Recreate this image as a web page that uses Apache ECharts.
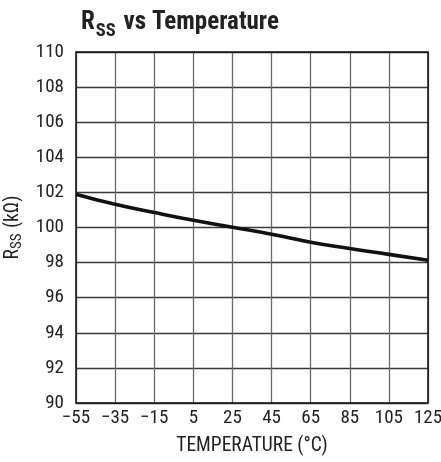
<!DOCTYPE html>
<html><head><meta charset="utf-8">
<script src="https://cdn.jsdelivr.net/npm/echarts@6/dist/echarts.min.js"></script>
<style>html,body{margin:0;padding:0;background:#fff}#c{width:441px;height:462px}</style>
</head><body><div id="c"></div>
<script>
var temps = [-55, -35, -15, 5, 25, 45, 65, 85, 105, 125];
var rss = [101.9, 101.32, 100.85, 100.41, 100.02, 99.62, 99.16, 98.8, 98.47, 98.13];
var yTicks = [90, 92, 94, 96, 98, 100, 102, 104, 106, 108, 110];
var xTicks = [-55, -35, -15, 5, 25, 45, 65, 85, 105, 125];

var FONT = "'Roboto Condensed', 'Liberation Sans Narrow', 'Liberation Sans', sans-serif";
var TXT = '#222';
var chart = echarts.init(document.getElementById('c'), null, {renderer: 'canvas'});
var borderAxis = {
  axisLine: {show: true, onZero: false, lineStyle: {color: '#111', width: 1.5}},
  axisTick: {show: false}, axisLabel: {show: false}, splitLine: {show: false}
};
chart.setOption({
  animation: false,
  backgroundColor: '#fff',
  title: {
    text: '{r|R}{s|SS}{r| vs Temperature}',
    left: 76, top: 5,
    textStyle: {
      rich: {
        r: {fontFamily: FONT, fontWeight: 'bold', fontSize: 25, color: TXT, verticalAlign: 'top'},
        s: {fontFamily: FONT, fontWeight: 'bold', fontSize: 18.5, color: TXT, verticalAlign: 'top', padding: [12, 2, 0, 1]}
      }
    }
  },
  grid: {left: 76, right: 13, top: 52, bottom: 59, show: false, outerBoundsMode: 'none', containLabel: false},
  xAxis: [{
    type: 'value', min: -55, max: 125, interval: 20,
    name: 'TEMPERATURE (°C)', nameLocation: 'middle', nameGap: 33,
    nameTextStyle: {fontFamily: FONT, fontSize: 19.5, color: TXT},
    axisLine: {show: true, onZero: false, lineStyle: {color: '#111', width: 1.5}},
    axisTick: {show: false},
    axisLabel: {fontFamily: FONT, fontSize: 19, color: TXT, margin: 6,
      formatter: function (v) { return xTicks.indexOf(v) >= 0 ? String(v).replace('-', '\u2212') : ''; }},
    splitLine: {show: true, lineStyle: {color: '#6a6a6a', width: 1.3}}
  }, Object.assign({type: 'value', position: 'top', min: -55, max: 125, interval: 20}, borderAxis)],
  yAxis: [{
    type: 'value', min: 90, max: 110, interval: 2,
    name: '{r|R}{s|SS}{r| (kΩ)}', nameLocation: 'middle', nameGap: 48, nameRotate: 90,
    nameTextStyle: {
      rich: {
        r: {fontFamily: FONT, fontSize: 19.5, color: TXT, verticalAlign: 'top'},
        s: {fontFamily: FONT, fontSize: 15, color: TXT, verticalAlign: 'top', padding: [7, 1, 0, 0]}
      }
    },
    axisLine: {show: true, onZero: false, lineStyle: {color: '#111', width: 1.5}},
    axisTick: {show: false},
    axisLabel: {fontFamily: FONT, fontSize: 19, color: TXT, margin: 12,
      formatter: function (v) { return yTicks.indexOf(v) >= 0 ? String(v) : ''; }},
    splitLine: {show: true, lineStyle: {color: '#3a3a3a', width: 1.3}}
  }, Object.assign({type: 'value', position: 'right', min: 90, max: 110, interval: 2}, borderAxis)],
  series: [{
    type: 'line', smooth: true, symbol: 'none',
    data: temps.map(function (t, i) { return [t, rss[i]]; }),
    lineStyle: {color: '#111', width: 3.6}
  }]
});
</script></body></html>
